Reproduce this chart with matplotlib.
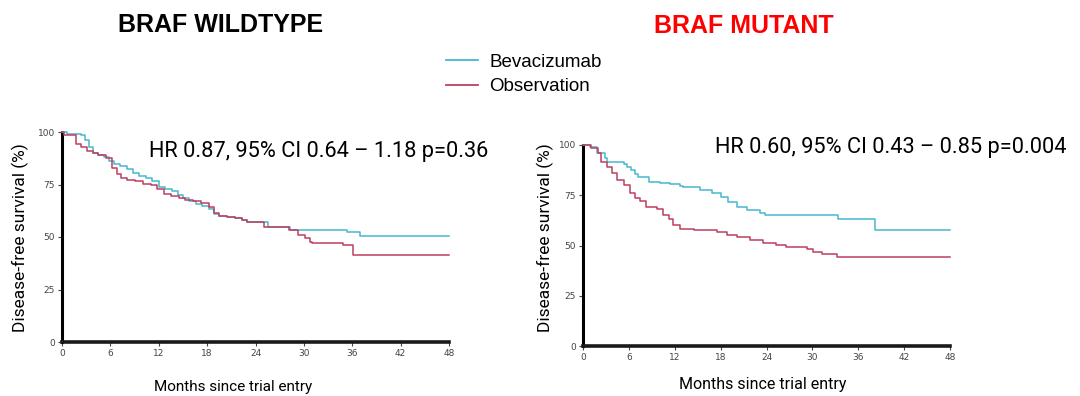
import matplotlib
matplotlib.use("Agg")
import matplotlib.pyplot as plt
from matplotlib.lines import Line2D

# ---------------- data ----------------
months_ticks = [0, 6, 12, 18, 24, 30, 36, 42, 48]
surv_ticks = [0, 25, 50, 75, 100]

# BRAF wildtype - Bevacizumab
wt_bev_t = [0, 0.6, 2.3, 2.8, 3.3, 3.8, 4.5, 5.2, 5.8, 6.5, 7.2, 8.0, 8.8, 9.6, 10.4,
            11.2, 12.0, 12.8, 13.6, 14.4, 15.0, 15.8, 16.6, 17.4, 18.2, 18.8, 19.5,
            20.5, 21.5, 22.3, 23.0, 25.5, 28.3, 35.3, 37.0, 48]
wt_bev_s = [100, 99, 98.5, 96, 93, 90, 89, 88, 86, 85, 84, 82.5, 80.5, 79, 78,
            76.5, 74, 73, 72, 70, 68.5, 67, 65.5, 65, 63.5, 61, 60,
            59.5, 59, 58, 57, 54.9, 53.3, 52.2, 50.6, 50.6]

# BRAF wildtype - Observation
wt_obs_t = [0, 0.2, 1.7, 2.4, 3.1, 3.8, 4.5, 5.5, 6.2, 6.8, 7.3, 8.0, 9.0, 10.0, 11.0,
            11.8, 12.6, 13.5, 14.5, 15.3, 16.2, 17.2, 18.2, 18.8, 19.5, 20.5, 21.5,
            22.3, 23.0, 25.0, 28.1, 29.3, 30.1, 30.7, 31.0, 34.9, 36.1, 48]
wt_obs_s = [100, 98.5, 94.5, 93, 91, 90, 89, 87.5, 83, 80, 78, 77.3, 76.5, 75.4, 74.6,
            73, 70.5, 69.5, 68.5, 67.5, 67, 66, 64.5, 61.5, 60, 59.5, 59,
            58, 57, 54.9, 53.3, 51, 49.4, 47.8, 47.3, 46.2, 41.4, 41.4]

# BRAF mutant - Bevacizumab
mt_bev_t = [0, 0.9, 1.8, 2.9, 3.2, 5.3, 5.7, 6.3, 6.8, 7.2, 8.6, 10.1, 11.4, 12.7,
            13.1, 15.3, 16.9, 18.0, 19.0, 20.1, 21.4, 23.2, 23.8, 33.4, 38.2, 48]
mt_bev_s = [100, 98.8, 96.2, 93.4, 91.4, 90.5, 89.2, 87.5, 85.6, 83.9, 81.8, 80.9, 80.4, 79.6,
            78.9, 77.6, 76, 74.3, 71.8, 69.3, 67.7, 66.3, 65.2, 63, 57.7, 57.7]

# BRAF mutant - Observation
mt_obs_t = [0, 1.1, 2.0, 2.4, 3.1, 3.8, 4.4, 5.3, 6.2, 6.8, 7.5, 8.3, 9.7, 10.5,
            11.2, 11.8, 12.7, 14.5, 17.5, 18.8, 20.1, 21.9, 23.6, 25.3, 26.6, 29.3,
            30.1, 31.2, 33.2, 48]
mt_obs_s = [100, 98.3, 95.9, 91.7, 89.2, 85.9, 82.6, 80.1, 76, 73.5, 72.3, 69.3, 68.2, 65.2,
            63, 60.2, 58.2, 57.7, 56.9, 55.2, 54.1, 52.7, 51.1, 50.2, 49.1, 48.1,
            46.9, 45.8, 44.1, 44.1]

titles = ["BRAF WILDTYPE", "BRAF MUTANT"]
hr_texts = ["HR 0.87, 95% CI 0.64 \u2013 1.18 p=0.36",
            "HR 0.60, 95% CI 0.43 \u2013 0.85 p=0.004"]
series_names = ["Bevacizumab", "Observation"]
ylabel = "Disease-free survival (%)"
xlabel = "Months since trial entry"

# ---------------- style ----------------
BLUE = "#45B8CE"
RED = "#BE3F5F"
NARROW = ["Roboto", "DejaVu Sans"]
ARIAL = ["Liberation Sans", "DejaVu Sans"]

W, H = 1080, 396
fig = plt.figure(figsize=(W / 100, H / 100), dpi=100)


def px_axes(x0, y0, x1, y1):
    return fig.add_axes([x0 / W, 1 - y1 / H, (x1 - x0) / W, (y1 - y0) / H])


def ptext(x, y, s, **kw):
    return fig.text(x / W, 1 - y / H, s, **kw)


ax1 = px_axes(62, 132, 449, 342)
ax2 = px_axes(583, 145, 950, 346)

data = [((wt_bev_t, wt_bev_s), (wt_obs_t, wt_obs_s)),
        ((mt_bev_t, mt_bev_s), (mt_obs_t, mt_obs_s))]

for ax, (bev, obs) in zip([ax1, ax2], data):
    ax.step(bev[0], bev[1], where="post", color=BLUE, lw=1.1, zorder=3, clip_on=False)
    ax.step(obs[0], obs[1], where="post", color=RED, lw=1.1, zorder=3, clip_on=False)
    ax.set_xlim(0, 48)
    ax.set_ylim(0, 100)
    ax.set_xticks(months_ticks)
    ax.set_yticks(surv_ticks)
    for s in ["top", "right"]:
        ax.spines[s].set_visible(False)
    ax.spines["left"].set_linewidth(2.2)
    ax.spines["bottom"].set_linewidth(2.6)
    ax.spines["left"].set_color("black")
    ax.spines["bottom"].set_color("#1a1a1a")
    ax.tick_params(axis="both", direction="out", length=3, width=0.8,
                   labelsize=6.5, labelcolor="#444444", color="#444444", pad=2)

# y labels
ptext(20.5, 237.5, ylabel, rotation=90, ha="center", va="center",
      fontsize=12.5, family=NARROW)
ptext(545, 238, ylabel, rotation=90, ha="center", va="center",
      fontsize=12.5, family=NARROW)
# x labels
ptext(233.5, 391.5, xlabel, ha="center", va="baseline", fontsize=11, family=NARROW)
ptext(763, 388.5, xlabel, ha="center", va="baseline", fontsize=11.5, family=NARROW)
# HR texts
ptext(318.5, 157.5, hr_texts[0], ha="center", va="baseline", fontsize=15.7, family=NARROW)
ptext(890.5, 153.5, hr_texts[1], ha="center", va="baseline", fontsize=15.7, family=NARROW)
# titles
ptext(220.5, 32, titles[0], ha="center", va="baseline",
      fontsize=18, fontweight="bold", family=ARIAL, color="black")
ptext(743.5, 33, titles[1], ha="center", va="baseline",
      fontsize=18, fontweight="bold", family=ARIAL, color="#FF0000")

# legend
handles = [Line2D([], [], color=BLUE, lw=1.3), Line2D([], [], color=RED, lw=1.3)]
leg = fig.legend(handles, series_names, loc="center left",
                 bbox_to_anchor=(446 / W, 1 - 74.5 / H), frameon=False,
                 prop={"family": ARIAL, "size": 13.5}, handlelength=1.7,
                 labelspacing=0.39, handletextpad=0.6, borderpad=0,
                 borderaxespad=0)

fig.savefig("out.png", dpi=100)
